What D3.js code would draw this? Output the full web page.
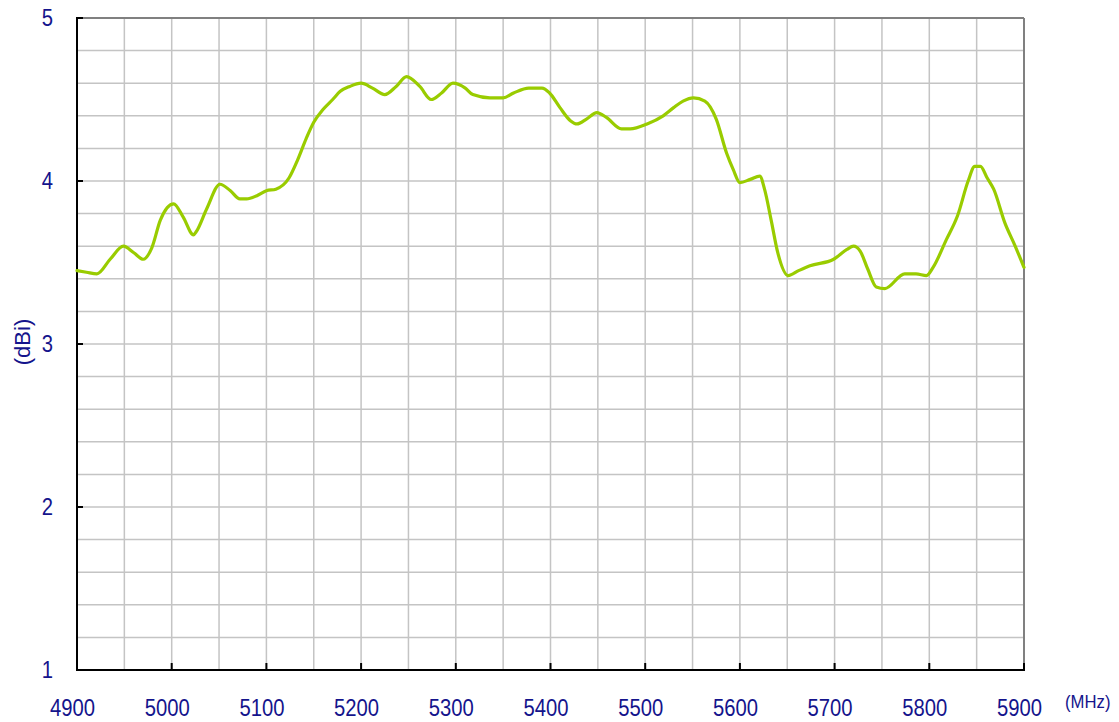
<!DOCTYPE html>
<html lang="en">
<head>
    <meta charset="utf-8">
    <title>gain_vs_freq</title>
    <script src="https://cdnjs.cloudflare.com/ajax/libs/d3/7.8.5/d3.min.js"></script>
    <style type="text/css">
        body { margin: 0; background: #fff; }
        text { font-family: "Liberation Sans", Arial, sans-serif; fill: #14148c; }
    </style>
</head>
<body>
<script type="text/javascript">

    // frequency (MHz) and gain (dBi)
    var freq = [4900,4910,4921,4935,4949,4960,4970,4979,4988,5002,5012,5023,5026,5037,5051,5062,5072,5079,5090,5100,
        5110,5124,5133,5142,5150,5160,5170,5178,5188,5200,5212,5225,5237,5248,5262,5274,5285,5297,5310,5318,
        5336,5350,5361,5377,5391,5399,5410,5421,5428,5438,5449,5459,5475,5484,5502,5519,5530,5540,5551,5563,
        5575,5586,5593,5600,5611,5621,5626,5633,5640,5651,5662,5674,5699,5713,5720,5727,5735,5744,5753,5774,
        5786,5797,5804,5818,5830,5841,5848,5854,5861,5868,5880,5890,5900];
    var gain = [3.45,3.44,3.43,3.52,3.60,3.56,3.52,3.59,3.76,3.86,3.78,3.67,3.69,3.83,3.98,3.94,3.89,3.89,3.91,3.94,
        3.95,4.02,4.13,4.26,4.36,4.44,4.50,4.55,4.58,4.60,4.57,4.53,4.58,4.64,4.58,4.50,4.54,4.60,4.57,4.53,
        4.51,4.51,4.54,4.57,4.57,4.54,4.45,4.37,4.35,4.38,4.42,4.39,4.32,4.32,4.35,4.40,4.45,4.49,4.51,4.49,
        4.38,4.17,4.07,3.99,4.01,4.03,3.95,3.76,3.56,3.42,3.45,3.48,3.52,3.58,3.60,3.57,3.46,3.35,3.34,3.43,
        3.43,3.42,3.47,3.64,3.79,4.00,4.09,4.09,4.02,3.95,3.74,3.61,3.47];

    var xTicks = [4900,5000,5100,5200,5300,5400,5500,5600,5700,5800,5900];
    var yTicks = [1,2,3,4,5];
    var xGrid = d3.range(4900, 5901, 50);
    var yGrid = d3.range(1, 5.01, 0.2);

    // plot box (note: "top" is taken by window.top, so use other names)
    var plotL = 77, plotR = 1024, plotT = 18, plotB = 670;

    var x = d3.scaleLinear().domain([4900, 5900]).range([plotL, plotR]);
    var y = d3.scaleLinear().domain([1, 5]).range([plotB, plotT]);

    var svg = d3.select("body")
        .append("svg")
        .attr("width", 1119)
        .attr("height", 722);

    // grid
    svg.selectAll("line.vgrid")
        .data(xGrid)
        .enter()
        .append("line")
        .attr("class", "vgrid")
        .attr("x1", d => x(d)).attr("x2", d => x(d))
        .attr("y1", plotT).attr("y2", plotB)
        .attr("stroke", "#c4c4c4")
        .attr("stroke-width", 1.5);
    svg.selectAll("line.hgrid")
        .data(yGrid)
        .enter()
        .append("line")
        .attr("class", "hgrid")
        .attr("x1", plotL).attr("x2", plotR)
        .attr("y1", d => y(d)).attr("y2", d => y(d))
        .attr("stroke", "#c4c4c4")
        .attr("stroke-width", 1.5);

    // frame: top/right gray, left/bottom black
    svg.append("line").attr("x1", plotL).attr("x2", plotR).attr("y1", plotT).attr("y2", plotT)
        .attr("stroke", "#808080").attr("stroke-width", 2);
    svg.append("line").attr("x1", plotR).attr("x2", plotR).attr("y1", plotT).attr("y2", plotB)
        .attr("stroke", "#808080").attr("stroke-width", 2);
    svg.append("line").attr("x1", plotL).attr("x2", plotL).attr("y1", plotT - 1).attr("y2", plotB + 1)
        .attr("stroke", "#000").attr("stroke-width", 2);
    svg.append("line").attr("x1", plotL - 1).attr("x2", plotR + 1).attr("y1", plotB).attr("y2", plotB)
        .attr("stroke", "#000").attr("stroke-width", 2);

    // inside ticks
    svg.selectAll("line.ytick")
        .data(yTicks)
        .enter()
        .append("line")
        .attr("class", "ytick")
        .attr("x1", plotL).attr("x2", plotL + 6)
        .attr("y1", d => y(d)).attr("y2", d => y(d))
        .attr("stroke", "#000").attr("stroke-width", 2);
    svg.selectAll("line.xtick")
        .data(xTicks)
        .enter()
        .append("line")
        .attr("class", "xtick")
        .attr("x1", d => x(d)).attr("x2", d => x(d))
        .attr("y1", plotB).attr("y2", plotB - 7)
        .attr("stroke", "#000").attr("stroke-width", 2);

    // tick labels (slightly condensed like the original)
    svg.selectAll("text.ylab")
        .data(yTicks)
        .enter()
        .append("text")
        .attr("class", "ylab")
        .attr("transform", d => "translate(53," + (y(d) + 8) + ") scale(0.88,1)")
        .attr("text-anchor", "end")
        .attr("font-size", 23)
        .text(d => d);
    svg.selectAll("text.xlab")
        .data(xTicks)
        .enter()
        .append("text")
        .attr("class", "xlab")
        .attr("transform", d => "translate(" + (x(d) - 4.5) + ",716) scale(0.88,1)")
        .attr("text-anchor", "middle")
        .attr("font-size", 23)
        .text(d => d);

    svg.append("text")
        .attr("transform", "translate(1065,708) scale(0.88,1)")
        .attr("font-size", 19)
        .text("(MHz)");
    svg.append("text")
        .attr("transform", "translate(30,342) rotate(-90)")
        .attr("text-anchor", "middle")
        .attr("font-size", 22)
        .text("(dBi)");

    // gain curve
    var line = d3.line()
        .x(d => x(d[0]))
        .y(d => y(d[1]))
        .curve(d3.curveMonotoneX);

    svg.append("path")
        .datum(d3.zip(freq, gain))
        .attr("d", line)
        .attr("fill", "none")
        .attr("stroke", "#99cc00")
        .attr("stroke-width", 3.2)
        .attr("stroke-linejoin", "round")
        .attr("stroke-linecap", "round");

</script>
</body>
</html>
